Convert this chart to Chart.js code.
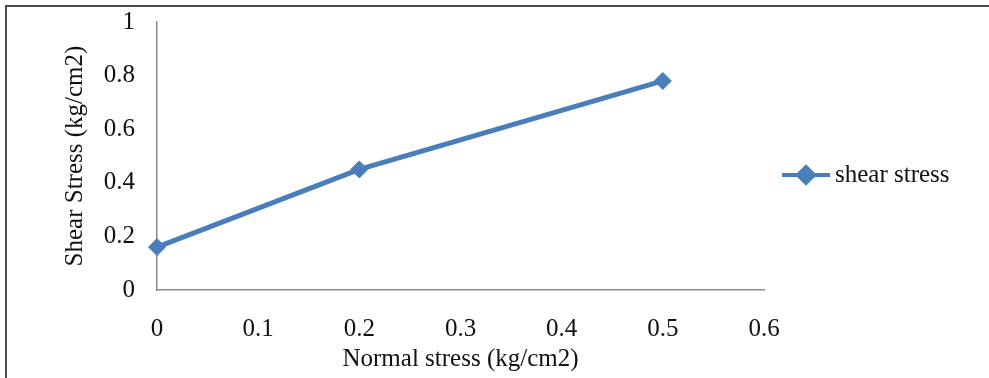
<!DOCTYPE html>
<html>
<head>
<meta charset="utf-8">
<script src="https://cdn.jsdelivr.net/npm/chart.js@4"></script>
<style>
  body { margin: 0; background: #fff; }
  #wrap { position: relative; width: 989px; height: 378px; }
  #frame {
    position: absolute; left: 5px; top: 5px; right: 0; bottom: 0;
    border-top: 2px solid #4a4a4a; border-left: 2px solid #4a4a4a;
    pointer-events: none;
  }
</style>
</head>
<body>
<div id="wrap">
  <canvas id="grafico" width="989" height="378"></canvas>
  <div id="frame"></div>
</div>
<script>
// normal stress vs shear stress (kg/cm2)
const normalStress = [0, 0.2, 0.5];
const shearStress = [0.16, 0.45, 0.78];
const xTicks = [0, 0.1, 0.2, 0.3, 0.4, 0.5, 0.6];
const yTicks = [0, 0.2, 0.4, 0.6, 0.8, 1];

const lineColor = '#4a7ebb';
const axisColor = '#8a8a8a';
const textColor = '#111';
const fontFamily = '"Liberation Serif", "Times New Roman", serif';

// legenda à direita: linha + losango + texto
const legendaManual = {
    id: 'legendaManual',
    afterDraw(chart) {
        const ctx = chart.ctx;
        const ds = chart.data.datasets[0];
        const y = 175;
        ctx.save();
        ctx.strokeStyle = ds.borderColor;
        ctx.lineWidth = 4;
        ctx.beginPath();
        ctx.moveTo(782, y);
        ctx.lineTo(830, y);
        ctx.stroke();
        Chart.helpers.drawPoint(ctx, { pointStyle: 'rectRot', radius: 8, borderWidth: 1 }, 806, y);
        ctx.fillStyle = ds.backgroundColor;
        ctx.fill();
        ctx.fillStyle = textColor;
        ctx.font = '25px ' + fontFamily;
        ctx.textBaseline = 'middle';
        ctx.textAlign = 'left';
        ctx.fillText(ds.label, 835, y);
        ctx.restore();
    }
};

const ctx = document.getElementById('grafico').getContext('2d');

new Chart(ctx, {
    type: 'line',
    data: {
        datasets: [{
            label: 'shear stress',
            data: normalStress.map((x, i) => ({ x: x, y: shearStress[i] })),
            borderColor: lineColor,
            backgroundColor: lineColor,
            borderWidth: 5,
            pointStyle: 'rectRot',
            pointRadius: 8.5,
            pointBorderWidth: 1,
            fill: false,
            clip: false
        }]
    },
    options: {
        responsive: false,
        animation: false,
        layout: {
            padding: { left: 0, top: 22, right: 989 - 764, bottom: 0 }
        },
        plugins: {
            legend: { display: false },
            tooltip: { enabled: false }
        },
        scales: {
            x: {
                type: 'linear',
                min: 0,
                max: 0.6,
                afterBuildTicks: (scale) => { scale.ticks = xTicks.map(v => ({ value: v })); },
                afterFit: (scale) => {
                    scale.height = 378 - 290;
                    scale.paddingLeft = 0;
                    scale.paddingRight = 0;
                },
                ticks: {
                    callback: (value) => String(Number(value.toFixed(1))),
                    color: textColor,
                    font: { family: fontFamily, size: 25 },
                    padding: 24,
                    maxRotation: 0
                },
                grid: { display: false, drawTicks: false },
                border: { display: true, color: axisColor, width: 1.5 },
                title: {
                    display: true,
                    text: 'Normal stress (kg/cm2)',
                    color: textColor,
                    font: { family: fontFamily, size: 25 },
                    padding: { top: 0, bottom: 4 }
                }
            },
            y: {
                type: 'linear',
                min: 0,
                max: 1,
                afterBuildTicks: (scale) => { scale.ticks = yTicks.map(v => ({ value: v })); },
                afterFit: (scale) => {
                    scale.width = 157;
                    scale.paddingTop = 0;
                    scale.paddingBottom = 0;
                },
                ticks: {
                    callback: (value) => String(Number(value.toFixed(1))),
                    color: textColor,
                    font: { family: fontFamily, size: 25 },
                    padding: 22
                },
                grid: { display: false, drawTicks: false },
                border: { display: true, color: axisColor, width: 1.5 },
                title: {
                    display: true,
                    text: 'Shear Stress (kg/cm2)',
                    color: textColor,
                    font: { family: fontFamily, size: 25 },
                    padding: { top: 60, bottom: 0 }
                }
            }
        }
    },
    plugins: [legendaManual]
});
</script>
</body>
</html>
